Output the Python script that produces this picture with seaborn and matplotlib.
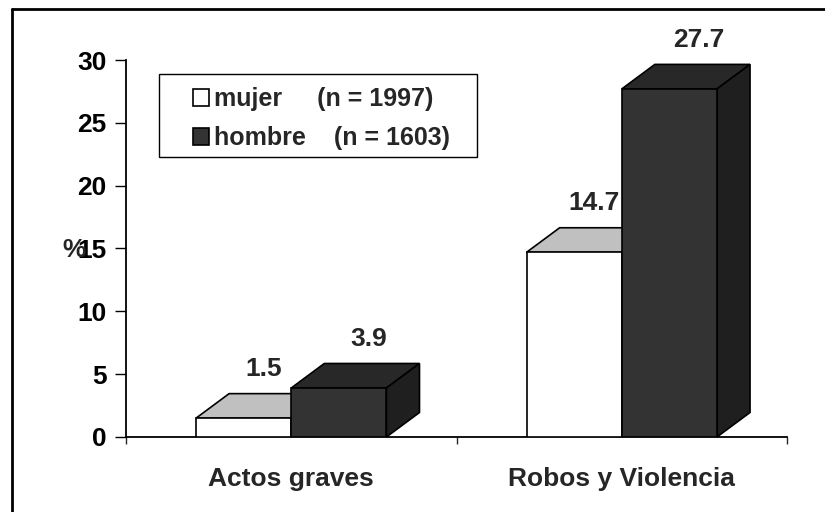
import pandas as pd
import matplotlib
matplotlib.use('Agg')
import matplotlib.pyplot as plt
import seaborn as sns
from matplotlib.patches import Polygon, Rectangle
from matplotlib.lines import Line2D

categorias = ['Actos graves', 'Robos y Violencia']
grupos = ['mujer', 'hombre']
mujer = [1.5, 14.7]
hombre = [3.9, 27.7]
etiquetas_leyenda = ['mujer     (n = 1997)', 'hombre    (n = 1603)']

df = pd.DataFrame({
    'categoria': categorias * 2,
    'grupo': ['mujer'] * 2 + ['hombre'] * 2,
    'valor': mujer + hombre,
})

sns.set_style('white')
plt.rcParams['font.family'] = ['Liberation Sans', 'DejaVu Sans']
plt.rcParams['font.weight'] = 'bold'

frente = {'mujer': '#ffffff', 'hombre': '#333333'}
arriba = {'mujer': '#c0c0c0', 'hombre': '#282828'}
lado = {'mujer': '#e0e0e0', 'hombre': '#1f1f1f'}
desplaz_etiqueta = {'mujer': 0.06, 'hombre': 0.09}

fig = plt.figure(figsize=(8.25, 5.12), dpi=100)
ax = fig.add_axes([0.1527, 0.1465, 0.954 - 0.1527, 0.8828 - 0.1465])

sns.barplot(data=df, x='categoria', y='valor', hue='grupo', order=categorias,
            hue_order=grupos, palette=frente, width=0.576, ax=ax,
            edgecolor='black', linewidth=1.2, legend=False, zorder=3)

# profundidad del efecto 3D (en unidades de datos)
dx, dy = 0.1, 1.95

barras = ax.patches[:4]
for i, p in enumerate(barras):
    g = grupos[i // 2]
    x0, w, h = p.get_x(), p.get_width(), p.get_height()
    x1 = x0 + w
    top = Polygon([(x0, h), (x0 + dx, h + dy), (x1 + dx, h + dy), (x1, h)],
                  closed=True, facecolor=arriba[g], edgecolor='black',
                  linewidth=1.2, clip_on=False, zorder=2 if g == 'mujer' else 4)
    side = Polygon([(x1, 0), (x1 + dx, dy), (x1 + dx, h + dy), (x1, h)],
                   closed=True, facecolor=lado[g], edgecolor='black',
                   linewidth=1.2, clip_on=False, zorder=2 if g == 'mujer' else 4)
    ax.add_patch(top)
    ax.add_patch(side)
    p.set_zorder(3 if g == 'mujer' else 5)
    ax.text(x0 + w / 2 + desplaz_etiqueta[g], h + dy + 1.0, f'{h:.1f}',
            ha='center', va='bottom', fontsize=19, fontweight='bold')

ax.set_xlim(-0.5, 1.5)
ax.set_ylim(0, 30)
ax.set_yticks([0, 5, 10, 15, 20, 25, 30])
ax.set_xticks([-0.5, 0.5, 1.5])
ax.set_xticklabels(['', '', ''])
for i, c in enumerate(categorias):
    ax.text(i, -2.4, c, ha='center', va='top', fontsize=19, fontweight='bold')
ax.tick_params(axis='y', direction='out', length=8, width=1, left=True,
               labelsize=19, pad=6, colors='black')
ax.tick_params(axis='x', direction='out', length=5, width=1, bottom=True)
ax.set_xlabel('')
ax.set_ylabel('')
for s in ['top', 'right']:
    ax.spines[s].set_visible(False)
for s in ['left', 'bottom']:
    ax.spines[s].set_color('black')
    ax.spines[s].set_linewidth(1.3)

fig.text(62 / 825, 1 - 250 / 512, '%', ha='left', va='center', fontsize=19,
         fontweight='bold')

# leyenda: recuadro aparte para reproducir el relleno amplio
ax.add_patch(Rectangle((159 / 825, 1 - 157 / 512), (477 - 159) / 825,
                       (157 - 74) / 512, transform=fig.transFigure,
                       facecolor='white', edgecolor='black', linewidth=1,
                       clip_on=False, zorder=6))
handles = [plt.Rectangle((0, 0), 1, 1, facecolor=frente[g], edgecolor='black',
                         linewidth=1.2) for g in grupos]
leg = ax.legend(handles, etiquetas_leyenda, loc='upper left',
                bbox_to_anchor=(193 / 825, 1 - 87 / 512), bbox_transform=fig.transFigure,
                frameon=False, prop={'weight': 'bold', 'size': 18},
                handlelength=0.65, handleheight=0.65, handletextpad=0.2,
                borderpad=0, labelspacing=0.6, borderaxespad=0)
leg.set_zorder(7)

# marco de la figura (solo izquierda y arriba visibles)
fig.add_artist(Line2D([12 / 825, 12 / 825], [0, 1 - 9 / 512], color='black',
                      linewidth=2, transform=fig.transFigure))
fig.add_artist(Line2D([12 / 825, 1], [1 - 9 / 512, 1 - 9 / 512], color='black',
                      linewidth=2, transform=fig.transFigure))

plt.savefig('out.png', dpi=100)
